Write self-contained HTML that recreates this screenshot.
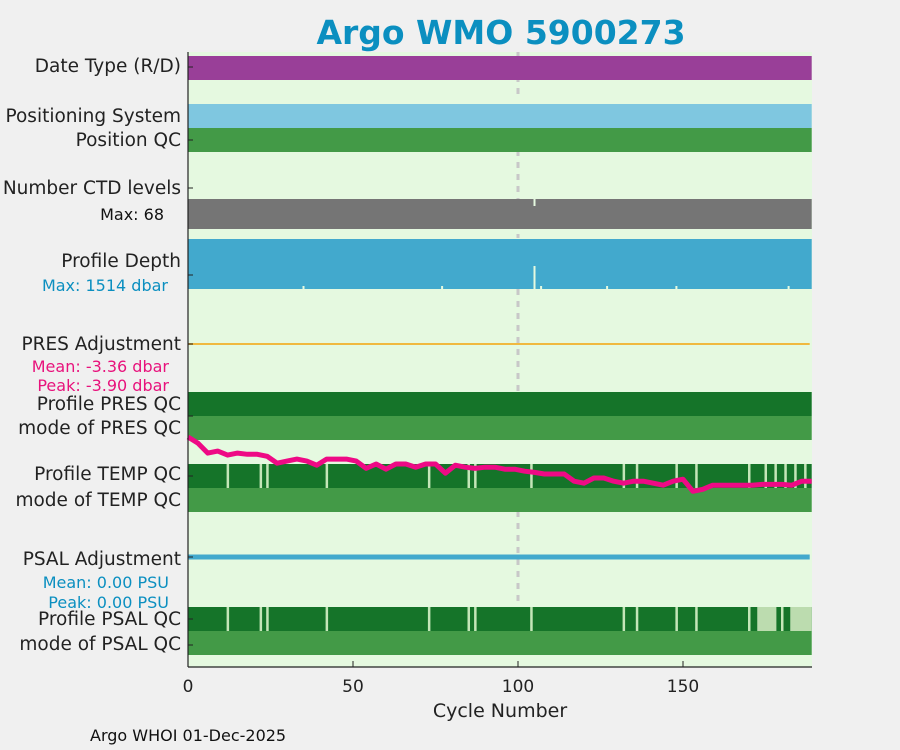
<!DOCTYPE html>
<html><head><meta charset="utf-8">
<style>
body{margin:0;background:#f0f0f0;font-family:"DejaVu Sans","Liberation Sans",sans-serif;}
svg{display:block}
text{font-family:"DejaVu Sans","Liberation Sans",sans-serif;}
</style></head>
<body>
<svg id="c" width="900" height="750">
<rect width="900" height="750" fill="#f0f0f0"/>
<text x="501" y="44" text-anchor="middle" font-size="33" font-weight="bold" fill="#0b8fc0">Argo WMO 5900273</text>
<rect x="188" y="52" width="624" height="615" fill="#e5f9e0"/>
<g id="marks"></g>
<g font-size="18.5" fill="#222" text-anchor="end">
<text x="181" y="72">Date Type (R/D)</text>
<text x="181" y="122">Positioning System</text>
<text x="181" y="146">Position QC</text>
<text x="181" y="194">Number CTD levels</text>
<text x="181" y="267">Profile Depth</text>
<text x="181" y="350">PRES Adjustment</text>
<text x="181" y="410">Profile PRES QC</text>
<text x="181" y="434">mode of PRES QC</text>
<text x="181" y="480">Profile TEMP QC</text>
<text x="181" y="506">mode of TEMP QC</text>
<text x="181" y="565">PSAL Adjustment</text>
<text x="181" y="625">Profile PSAL QC</text>
<text x="181" y="650">mode of PSAL QC</text>
</g>
<g font-size="16" text-anchor="end">
<text x="164" y="220" fill="#111">Max: 68</text>
<text x="168" y="291" fill="#0b8fc0">Max: 1514 dbar</text>
<text x="169" y="372" fill="#e8127c">Mean: -3.36 dbar</text>
<text x="169" y="391" fill="#e8127c">Peak: -3.90 dbar</text>
<text x="169" y="588" fill="#0b8fc0">Mean: 0.00 PSU</text>
<text x="169" y="608" fill="#0b8fc0">Peak: 0.00 PSU</text>
</g>
<g id="axes"></g>
<text x="500" y="717" text-anchor="middle" font-size="19" fill="#222">Cycle Number</text>
<text x="90" y="741" font-size="16" fill="#111">Argo WHOI 01-Dec-2025</text>
</svg>
<script>
const NCYC = 189;
const xTicks = [0, 50, 100, 150];
const tempBadCycles = [12, 22, 24, 42, 73, 85, 87, 104, 132, 136, 148, 154, 170, 175, 178, 181, 184, 187];
const psalBadCycles = [12, 22, 24, 42, 73, 85, 87, 104, 132, 136, 148, 154, 170, 180];
const psalProbRanges = [[172.5, 178.3], [182.5, 189]];
const depthNotchCycles = [35, 77, 105, 107, 127, 148, 182];
const lineCycles = [0,3,6,9,12,15,18,21,24,27,30,33,36,39,42,45,48,51,54,57,60,63,66,69,72,75,78,81,84,87,90,93,96,99,102,105,108,111,114,117,120,123,126,129,132,135,138,141,144,147,150,153,156,159,162,165,168,171,174,177,180,183,186,189];
const lineValues = [30,45,70,65,75,70,73,73,78,95,90,85,90,100,85,85,85,90,108,97,110,97,97,105,97,97,120,100,105,108,105,105,110,110,115,118,122,122,122,140,145,132,132,140,145,140,140,145,150,140,135,165,160,150,150,150,150,150,148,148,148,150,140,140];

const NS = "http://www.w3.org/2000/svg";
const marks = document.getElementById('marks');
const axes = document.getElementById('axes');
const X0 = 188, PX = 3.3;
function xs(c){ return X0 + c * PX; }
function ly(v){ return 425 + v / 2.49; }
function mk(tag, attrs, parent){
  const e = document.createElementNS(NS, tag);
  for (const k in attrs) e.setAttribute(k, attrs[k]);
  (parent || marks).appendChild(e);
  return e;
}
[[52,100],[150,238],[289,392],[511,606]].forEach(([a,b])=>{
  const l = mk('line',{x1:xs(100),x2:xs(100),y1:a,y2:b,stroke:'#c8c8c8','stroke-width':3,'stroke-dasharray':'6,6'});
  
  
});
const W = xs(NCYC) - X0;
function band(y,h,fill,name){
  const r = mk('rect',{x:X0,y:y,width:W,height:h,fill:fill});
  
  
}
band(56,24,'#993f98','date-type-band');
band(104,24,'#7fc7e0','positioning-system-band');
band(128,24,'#439a47','position-qc-band');
band(199,30,'#757575','ctd-levels-band');
band(239,50,'#42a9cd','profile-depth-band');
band(392,24,'#157429','profile-pres-qc-band');
band(416,24,'#439a47','mode-pres-qc-band');
band(464,24,'#157429','profile-temp-qc-band');
band(488,24,'#439a47','mode-temp-qc-band');
band(607,24,'#157429','profile-psal-qc-band');
band(631,24,'#439a47','mode-psal-qc-band');
{const r = mk('rect',{x:xs(105)-1,y:199,width:2,height:7,fill:'#e5f9e0'});

}
depthNotchCycles.forEach(c=>{
  const r = mk('rect',{x:xs(c)-1,y:c===105?266:286,width:2,height:c===105?23:3,fill:'#e5f9e0'});
  
  
});
tempBadCycles.forEach(c=>{
  const r = mk('rect',{x:xs(c)-1,y:464,width:2.5,height:24,fill:'#c4e6b8'});
  
  
});
psalBadCycles.forEach(c=>{
  const r = mk('rect',{x:xs(c)-1,y:607,width:2.5,height:24,fill:'#c4e6b8'});
  
  
});
psalProbRanges.forEach(([a,b])=>{
  const r = mk('rect',{x:xs(a),y:607,width:xs(b)-xs(a),height:24,fill:'#bcdcaf'});
  
  
});
{const l = mk('line',{x1:X0,x2:xs(NCYC)-2,y1:344,y2:344,stroke:'#f0b940','stroke-width':2});

}
{const l = mk('line',{x1:X0,x2:xs(NCYC)-2,y1:557,y2:557,stroke:'#42a9cd','stroke-width':5});

}
{const pts = lineCycles.map((c,i)=>xs(c)+','+ly(lineValues[i]).toFixed(1)).join(' ');
const p = mk('polyline',{points:pts,fill:'none',stroke:'#ee0a85','stroke-width':5,'stroke-linejoin':'round'});

}
mk('line',{x1:X0,x2:X0,y1:52,y2:667,stroke:'#222','stroke-width':1.2},axes);
mk('line',{x1:X0,x2:812,y1:667,y2:667,stroke:'#222','stroke-width':1.2},axes);
xTicks.forEach(t=>{
  mk('line',{x1:xs(t),x2:xs(t),y1:667,y2:661,stroke:'#222'},axes);
  const tx = mk('text',{x:xs(t),y:692,'text-anchor':'middle','font-size':17,fill:'#222'},axes);
  tx.textContent = t;
  
  
});
[67,140,188,275,344,416,476,557,619,645].forEach(y=>{
  mk('line',{x1:X0,x2:X0+5,y1:y,y2:y,stroke:'#222'},axes);
});
</script>
</body></html>
